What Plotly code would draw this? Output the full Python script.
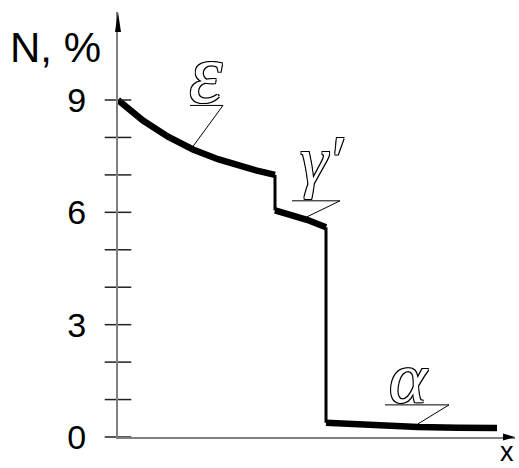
import plotly.graph_objects as go

# Nitrogen content profile through the compound layer
eps_x = [0, 25, 50, 75, 100, 119, 138, 157]
eps_y = [9.0, 8.45, 8.02, 7.68, 7.42, 7.26, 7.12, 7.0]

gam_x = [157, 173, 189, 208]
gam_y = [6.05, 5.93, 5.80, 5.6]

alp_x = [208, 250, 300, 340, 379]
alp_y = [0.38, 0.31, 0.27, 0.25, 0.24]

tick_vals = [0, 3, 6, 9]
minor_ticks = list(range(0, 10))

X_MAX = 397
Y_MAX = 11.35
PX_PER_Y = 37.45
FONT = "Liberation Sans, Arial, sans-serif"

fig = go.Figure()

# phase segments (thick) and the jumps between them (thin)
for xs, ys in [(eps_x, eps_y), (gam_x, gam_y), (alp_x, alp_y)]:
    fig.add_trace(go.Scatter(x=xs, y=ys, mode="lines",
                             line=dict(color="black", width=6.5),
                             cliponaxis=False, hoverinfo="skip"))
for (x0, y0), (x1, y1) in [((eps_x[-1], eps_y[-1]), (gam_x[0], gam_y[0])),
                           ((gam_x[-1], gam_y[-1]), (alp_x[0], alp_y[0]))]:
    fig.add_trace(go.Scatter(x=[x0, x1], y=[y0, y1], mode="lines",
                             line=dict(color="black", width=3),
                             cliponaxis=False, hoverinfo="skip"))

# tick marks crossing the vertical axis
fig.add_trace(go.Scatter(x=[0] * len(minor_ticks), y=minor_ticks, mode="markers",
                         marker=dict(symbol="line-ew", size=19,
                                     line=dict(color="#222", width=1.5)),
                         cliponaxis=False, hoverinfo="skip"))

# phase labels with leader lines
outline = ("1px 1px 0 #000, -1px -1px 0 #000, 1px -1px 0 #000, -1px 1px 0 #000")
labels = [
    # text, anchor x, anchor y, elbow dx, elbow dy (px), underline length, label offset, size
    ("ε", eps_x[3], eps_y[3], 30, 41, 33, (-17, 32), 84),
    ("γ′", gam_x[2], gam_y[2], 33, 16, 48, (-18, 40), 70),
    ("α", alp_x[2], alp_y[2], 31, 19, 64, (-41, 27), 72),
]
for text, ax_, ay_, dx, dy, ul, (lx, ly), size in labels:
    y_start = ay_ + 3 / PX_PER_Y
    ex, ey = ax_ + dx, y_start + dy / PX_PER_Y
    fig.add_trace(go.Scatter(x=[ax_, ex, ex - ul], y=[y_start, ey, ey], mode="lines",
                             line=dict(color="black", width=1),
                             cliponaxis=False, hoverinfo="skip"))
    fig.add_annotation(x=ex + lx, y=ey + ly / PX_PER_Y, xref="x", yref="y",
                       text=text, showarrow=False, xanchor="center", yanchor="middle",
                       font=dict(family="Liberation Serif, serif", size=size,
                                 style="italic", color="white", shadow=outline))

fig.add_annotation(x=(103 - 118) / X_MAX, y=(437 - 47) / 425, xref="paper", yref="paper",
                   text="N, %", showarrow=False, xanchor="right", yanchor="middle",
                   font=dict(family=FONT, size=42, color="black"))
fig.add_annotation(x=(507 - 118) / X_MAX, y=(437 - 468) / 425, xref="paper", yref="paper",
                   text="x", showarrow=False, xanchor="center", yanchor="bottom",
                   borderpad=0,
                   font=dict(family=FONT, size=27, color="black"))

# arrowheads at the ends of both axes
fig.add_shape(type="path", xref="paper", yref="paper", xsizemode="pixel", ysizemode="pixel",
              xanchor=0, yanchor=1, path="M0,0 L-3,-20 L3,-20 Z",
              fillcolor="black", line=dict(width=0), layer="above")
fig.add_shape(type="path", xref="paper", yref="paper", xsizemode="pixel", ysizemode="pixel",
              xanchor=1, yanchor=0, path="M0,0 L-12,3.5 L-12,-3.5 Z",
              fillcolor="black", line=dict(width=0), layer="above")

fig.update_layout(
    width=519, height=468,
    margin=dict(l=118, r=4, t=12, b=31),
    paper_bgcolor="white", plot_bgcolor="white",
    showlegend=False,
    xaxis=dict(range=[0, X_MAX], showline=True, linecolor="#808080", linewidth=2,
               showgrid=False, zeroline=False, ticks="", showticklabels=False),
    yaxis=dict(range=[0, Y_MAX], showline=True, linecolor="#808080", linewidth=2,
               showgrid=False, zeroline=False, ticks="",
               tickvals=tick_vals, ticktext=[str(v) for v in tick_vals],
               ticklabelstandoff=23,
               tickfont=dict(family=FONT, size=34, color="black")),
)

fig.write_html("out.html")
